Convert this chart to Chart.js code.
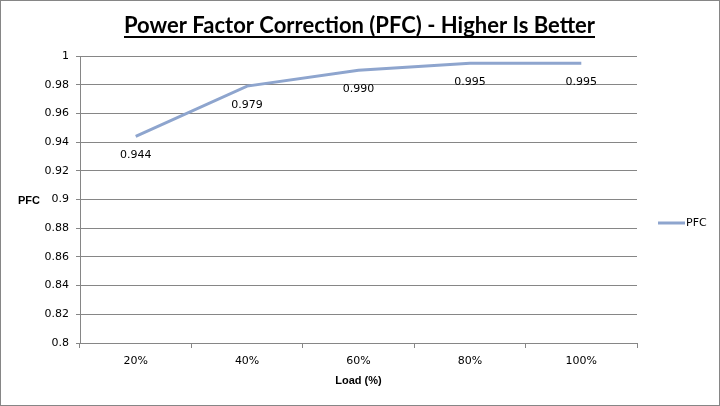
<!DOCTYPE html>
<html>
<head>
<meta charset="utf-8">
<script src="https://cdn.jsdelivr.net/npm/chart.js@4/dist/chart.umd.min.js"></script>
<style>
  html, body { margin: 0; padding: 0; background: #fff; }
  canvas { display: block; }
</style>
</head>
<body>
<canvas id="pfcChart" width="720" height="406"></canvas>
<script>
const loadLabels = ['20%', '40%', '60%', '80%', '100%'];
const pfcValues = [0.944, 0.979, 0.990, 0.995, 0.995];
const yTicks = { min: 0.8, max: 1, step: 0.02 };

const chartTitle = 'Power Factor Correction (PFC) - Higher Is Better';
const xTitle = 'Load (%)';
const yTitle = 'PFC';
const seriesName = 'PFC';

const lineColor = 'rgb(142,165,206)';
const gridColor = '#868686';

// titles, data labels, legend and frame are drawn by hand to match the Excel look
const decorations = {
  id: 'decorations',
  afterDraw(chart) {
    const { ctx, chartArea } = chart;
    ctx.save();

    // outer frame
    ctx.strokeStyle = gridColor;
    ctx.lineWidth = 1;
    ctx.strokeRect(0.5, 0.5, 719, 405);

    // main title, underlined
    ctx.fillStyle = '#000';
    ctx.font = 'bold 22px Lato';
    ctx.textAlign = 'center';
    ctx.textBaseline = 'alphabetic';
    const cx = 359.5;
    ctx.fillText(chartTitle, cx, 33);
    const w = ctx.measureText(chartTitle).width;
    ctx.fillRect(cx - w / 2, 36, w, 2);

    // axis titles
    ctx.font = 'bold 11px "Liberation Sans"';
    ctx.textBaseline = 'middle';
    ctx.fillText(xTitle, (chartArea.left + chartArea.right) / 2, 381);
    ctx.fillText(yTitle, 29, 201);

    // data labels under each point
    ctx.font = '11px "DejaVu Sans"';
    const meta = chart.getDatasetMeta(0);
    meta.data.forEach((pt, i) => {
      ctx.fillText(pfcValues[i].toFixed(3), pt.x, pt.y + 19);
    });

    // legend
    ctx.strokeStyle = lineColor;
    ctx.lineWidth = 3;
    ctx.beginPath();
    ctx.moveTo(658, 223);
    ctx.lineTo(685, 223);
    ctx.stroke();
    ctx.textAlign = 'left';
    ctx.fillText(seriesName, 686, 223);

    ctx.restore();
  }
};

new Chart(document.getElementById('pfcChart'), {
  type: 'line',
  data: {
    labels: loadLabels,
    datasets: [{
      label: seriesName,
      data: pfcValues,
      borderColor: lineColor,
      backgroundColor: lineColor,
      borderWidth: 3,
      pointRadius: 0,
      tension: 0,
      fill: false
    }]
  },
  options: {
    responsive: false,
    animation: false,
    devicePixelRatio: 1,
    layout: { padding: { left: 0, right: 83, top: 56, bottom: 0 } },
    plugins: {
      legend: { display: false },
      title: { display: false },
      tooltip: { enabled: false }
    },
    scales: {
      x: {
        offset: true,
        grid: { offset: true, drawOnChartArea: false, color: gridColor, tickLength: 5 },
        border: { color: gridColor },
        ticks: { color: '#000', font: { family: 'DejaVu Sans', size: 11 }, padding: 7, maxRotation: 0 },
        afterFit(scale) { scale.height = 63; }
      },
      y: {
        min: yTicks.min,
        max: yTicks.max,
        grid: { color: gridColor, tickLength: 4 },
        border: { color: gridColor },
        ticks: {
          stepSize: yTicks.step,
          color: '#000',
          font: { family: 'DejaVu Sans', size: 11 },
          padding: 7,
          callback: v => String(+v.toFixed(2))
        },
        afterFit(scale) { scale.width = 80; }
      }
    }
  },
  plugins: [decorations]
});
</script>
</body>
</html>
